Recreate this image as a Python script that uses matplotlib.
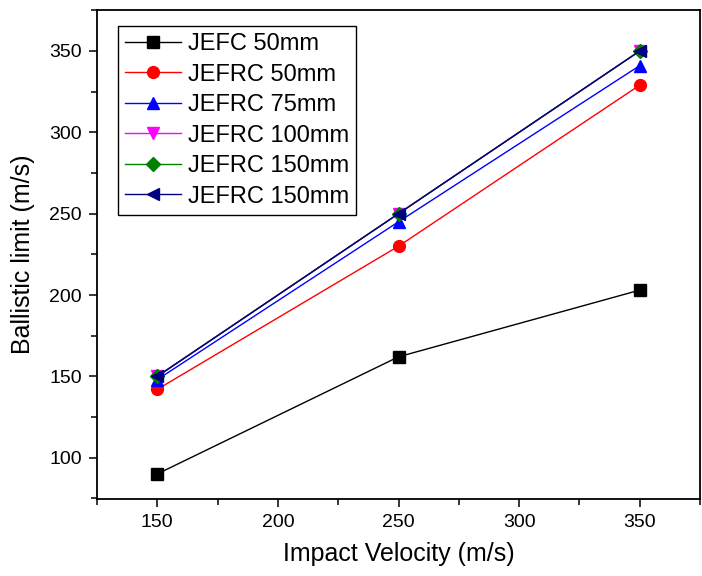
import matplotlib
matplotlib.use("Agg")
import matplotlib.pyplot as plt
from matplotlib.ticker import MultipleLocator

plt.rcParams['font.family'] = ['Liberation Sans', 'DejaVu Sans']

velocity = [150, 250, 350]
jefc_50 = [90, 162, 203]
jefrc_50 = [142, 230, 329]
jefrc_75 = [148, 245, 341]
jefrc_100 = [150, 250, 350]
jefrc_150 = [150, 250, 350]
jefrc_150b = [150, 250, 350]

series = [
    ("JEFC 50mm", jefc_50, "black", "s"),
    ("JEFRC 50mm", jefrc_50, "red", "o"),
    ("JEFRC 75mm", jefrc_75, "blue", "^"),
    ("JEFRC 100mm", jefrc_100, "magenta", "v"),
    ("JEFRC 150mm", jefrc_150, "green", "D"),
    ("JEFRC 150mm", jefrc_150b, "#000080", "<"),
]

fig = plt.figure(figsize=(7.02, 5.76), dpi=100)
ax = fig.add_axes([97 / 702, 1 - 499 / 576, 603 / 702, 489 / 576])

sizes = {"s": 8, "o": 8.5, "^": 9, "v": 9, "D": 7, "<": 9}
for label, vals, color, marker in series:
    ax.plot(velocity, vals, color=color, marker=marker, markersize=sizes[marker],
            linewidth=1, label=label)

ax.set_xlim(125, 375)
ax.set_ylim(74.6, 375.2)
ax.xaxis.set_major_locator(MultipleLocator(50))
ax.xaxis.set_minor_locator(MultipleLocator(25))
ax.yaxis.set_major_locator(MultipleLocator(50))
ax.yaxis.set_minor_locator(MultipleLocator(25))
ax.tick_params(which='both', direction='out', top=False, right=False,
               labelsize=14, width=1.1)
ax.tick_params(which='major', length=6, pad=5)
ax.tick_params(which='minor', length=4)
for s in ax.spines.values():
    s.set_linewidth(1.3)

ax.set_xlabel("Impact Velocity (m/s)", fontsize=18, labelpad=8)
ax.set_ylabel("Ballistic limit (m/s)", fontsize=18, labelpad=10)

leg = ax.legend(loc='upper left', bbox_to_anchor=(21 / 603, 1 - 16 / 489),
                fontsize=17, frameon=True, fancybox=False, edgecolor='black',
                framealpha=1, handlelength=2.35, handletextpad=0.3,
                labelspacing=0.36, borderpad=0.3, borderaxespad=0)
leg.get_frame().set_linewidth(1.0)

fig.savefig("out.png", dpi=100)
